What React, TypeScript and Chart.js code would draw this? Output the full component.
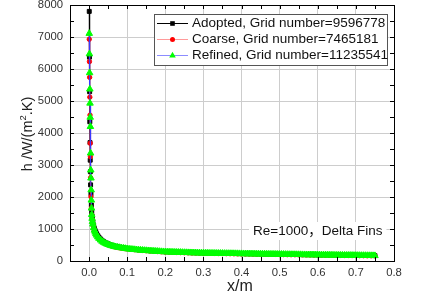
import { useEffect, useRef } from "react";
import { Chart, registerables } from "chart.js";

Chart.register(...registerables);

const FONT = '"Liberation Sans", Arial, "Noto Sans CJK SC", sans-serif';

const seriesNames = [
  "Adopted, Grid number=9596778",
  "Coarse, Grid number=7465181",
  "Refined, Grid number=11235541",
];
const annotationText = "Re=1000\uFF0CDelta Fins";
const xTitle = "x/m";
const yTitleParts = ["h /W/(m", "2", ".K)"];

const xTicks = [0, 0.1, 0.2, 0.3, 0.4, 0.5, 0.6, 0.7, 0.8];
const yTicks = [0, 1000, 2000, 3000, 4000, 5000, 6000, 7000, 8000];

// near-zero points (x/m)
const adoptedHeadX = [0.0005, 0.001, 0.0015, 0.002, 0.0025, 0.003, 0.0035, 0.004, 0.005, 0.006];
const adoptedHeadY = [7800, 6370, 5290, 4350, 3700, 3150, 2790, 2380, 2100, 1750];
const coarseHeadX = [0.0005, 0.001, 0.0015, 0.002, 0.0025, 0.003, 0.0035, 0.004, 0.005, 0.006];
const coarseHeadY = [6930, 6230, 5740, 5120, 4560, 3680, 3260, 2600, 2010, 1650];
const refinedHeadX = [0.0005, 0.001, 0.0015, 0.002, 0.0025, 0.003, 0.0035, 0.004, 0.0045, 0.005, 0.0055, 0.006];
const refinedHeadY = [7110, 6470, 5880, 5370, 4930, 4490, 4200, 3370, 2840, 2590, 2220, 1900];

// tail x positions for Adopted and Coarse
const baseTailX = [
  0.007, 0.008, 0.009, 0.01, 0.012, 0.014, 0.016, 0.018, 0.02, 0.023, 0.026, 0.03, 0.034,
  0.038, 0.042, 0.046, 0.05, 0.055, 0.06, 0.065, 0.07, 0.075, 0.08, 0.085, 0.09, 0.095,
  0.1, 0.11, 0.12, 0.13, 0.14, 0.15, 0.16, 0.17, 0.18, 0.19, 0.2,
  0.21, 0.22, 0.23, 0.24, 0.25, 0.26, 0.27, 0.28, 0.29, 0.3,
  0.31, 0.32, 0.33, 0.34, 0.35, 0.36, 0.37, 0.38, 0.39, 0.4,
  0.41, 0.42, 0.43, 0.44, 0.45, 0.46, 0.47, 0.48, 0.49, 0.5,
  0.51, 0.52, 0.53, 0.54, 0.55, 0.56, 0.57, 0.58, 0.59, 0.6,
  0.61, 0.62, 0.63, 0.64, 0.65, 0.66, 0.67, 0.68, 0.69, 0.7,
  0.71, 0.72, 0.73, 0.74, 0.75,
];
const adoptedTailY = [
  1520, 1400, 1300, 1220, 1100, 1015, 950, 895, 848, 790, 742, 690, 648,
  612, 582, 556, 535, 510, 490, 473, 458, 445, 433, 422, 412, 400,
  388, 373, 360, 348, 338, 329, 320, 311, 303, 295, 289,
  284, 279, 275, 271, 267, 263, 260, 257, 254, 251,
  248, 246, 244, 242, 240, 238, 236, 234, 232, 230,
  228, 226, 224, 222, 220, 218, 216, 215, 213, 211,
  209, 207, 205, 204, 202, 200, 198, 197, 195, 193,
  191, 190, 188, 186, 185, 183, 181, 180, 178, 177,
  175, 174, 172, 171, 169,
];
const coarseTailY = [
  1430, 1310, 1210, 1130, 1025, 945, 888, 838, 795, 740, 696, 647, 607,
  575, 548, 525, 505, 484, 466, 450, 436, 424, 413, 403, 394, 386,
  379, 366, 353, 341, 331, 321, 312, 304, 296, 288, 281,
  276, 271, 267, 263, 259, 255, 252, 249, 246, 243,
  240, 238, 236, 234, 232, 230, 228, 226, 224, 222,
  220, 218, 216, 214, 212, 210, 208, 207, 205, 203,
  201, 199, 197, 196, 194, 192, 190, 189, 187, 185,
  183, 182, 180, 178, 177, 175, 173, 172, 170, 169,
  167, 166, 164, 163, 161,
];

// Refined (finer grid, denser sampling)
const refinedTailX = [
  0.0065, 0.007, 0.008, 0.009, 0.01, 0.012, 0.014, 0.016, 0.018, 0.02, 0.023, 0.026, 0.03, 0.034,
  0.038, 0.042, 0.046, 0.05, 0.055, 0.06, 0.065, 0.07, 0.075, 0.08, 0.085, 0.09, 0.095,
  0.1, 0.105, 0.11, 0.115, 0.12, 0.125, 0.13, 0.135, 0.14, 0.145,
  0.15, 0.155, 0.16, 0.165, 0.17, 0.175, 0.18, 0.185, 0.19, 0.195,
  0.2, 0.205, 0.21, 0.215, 0.22, 0.225, 0.23, 0.235, 0.24, 0.245,
  0.25, 0.255, 0.26, 0.265, 0.27, 0.275, 0.28, 0.285, 0.29, 0.295,
  0.3, 0.305, 0.31, 0.315, 0.32, 0.325, 0.33, 0.335, 0.34, 0.345,
  0.35, 0.355, 0.36, 0.365, 0.37, 0.375, 0.38, 0.385, 0.39, 0.395,
  0.4, 0.405, 0.41, 0.415, 0.42, 0.425, 0.43, 0.435, 0.44, 0.445,
  0.45, 0.455, 0.46, 0.465, 0.47, 0.475, 0.48, 0.485, 0.49, 0.495,
  0.5, 0.505, 0.51, 0.515, 0.52, 0.525, 0.53, 0.535, 0.54, 0.545,
  0.55, 0.555, 0.56, 0.565, 0.57, 0.575, 0.58, 0.585, 0.59, 0.595,
  0.6, 0.605, 0.61, 0.615, 0.62, 0.625, 0.63, 0.635, 0.64, 0.645,
  0.65, 0.655, 0.66, 0.665, 0.67, 0.675, 0.68, 0.685, 0.69, 0.695,
  0.7, 0.705, 0.71, 0.715, 0.72, 0.725, 0.73, 0.735, 0.74, 0.745,
  0.75,
];
const refinedTailY = [
  1650, 1450, 1330, 1230, 1150, 1040, 960, 900, 850, 805, 750, 705, 655, 615,
  582, 555, 532, 512, 490, 472, 456, 442, 430, 419, 409, 400, 390,
  380, 373, 367, 361, 355, 349, 344, 339, 334, 329,
  325, 320, 316, 312, 308, 304, 300, 296, 292, 289,
  286, 283, 281, 278, 276, 274, 272, 270, 268, 266,
  264, 262, 260, 258, 257, 255, 254, 252, 251, 249,
  248, 246, 245, 244, 243, 242, 241, 240, 239, 238,
  237, 236, 235, 234, 233, 232, 231, 230, 229, 228,
  227, 226, 225, 224, 223, 222, 221, 220, 219, 218,
  217, 216, 215, 214, 213, 212, 212, 211, 210, 209,
  208, 207, 206, 205, 204, 203, 202, 201, 201, 200,
  199, 198, 197, 196, 195, 194, 194, 193, 192, 191,
  190, 189, 188, 187, 187, 186, 185, 184, 183, 182,
  182, 181, 180, 179, 178, 177, 177, 176, 175, 174,
  174, 173, 172, 171, 171, 170, 169, 168, 168, 167,
  166,
];

function pts(hx: number[], hy: number[], tx: number[], ty: number[]) {
  const out: { x: number; y: number }[] = [];
  hx.forEach((v, i) => out.push({ x: v, y: hy[i] }));
  tx.forEach((v, i) => {
    if (ty[i] !== undefined) out.push({ x: v, y: ty[i] });
  });
  return out;
}

const lineColors = ["#000000", "#ff3030", "#3a3aff"];
const legendLineColors = ["#000000", "#ff9a9a", "#8c8cff"];
const markerColors = ["#000000", "#ff0000", "#00ff00"];
const markerStyles = ["rect", "circle", "triangle"];

function drawMarker(ctx: CanvasRenderingContext2D, style: string, x: number, y: number, color: string) {
  ctx.fillStyle = color;
  ctx.beginPath();
  if (style === "rect") {
    ctx.rect(x - 2.3, y - 2.3, 4.6, 4.6);
  } else if (style === "circle") {
    ctx.arc(x, y, 2.5, 0, Math.PI * 2);
  } else {
    const r = 3.8;
    ctx.moveTo(x, y - r);
    ctx.lineTo(x + r * 0.866, y + r * 0.5);
    ctx.lineTo(x - r * 0.866, y + r * 0.5);
    ctx.closePath();
  }
  ctx.fill();
}

const decorPlugin = {
  id: "decor",
  afterDraw(chart: any) {
    const { ctx, chartArea: a } = chart;
    const xs = chart.scales.x;
    const ys = chart.scales.y;
    ctx.save();

    // frame
    ctx.strokeStyle = "#000";
    ctx.lineWidth = 1;
    ctx.strokeRect(Math.round(a.left) + 0.5, Math.round(a.top) + 0.5, Math.round(a.right - a.left), Math.round(a.bottom - a.top));

    // inward ticks
    ctx.beginPath();
    for (let i = 0; i <= 17; i++) {
      const v = -0.05 + i * 0.05;
      const px = Math.round(xs.getPixelForValue(v)) + 0.5;
      ctx.moveTo(px, a.bottom);
      ctx.lineTo(px, a.bottom - 4);
      ctx.moveTo(px, a.top);
      ctx.lineTo(px, a.top + 4);
    }
    for (let i = 0; i <= 16; i++) {
      const v = i * 500;
      const py = Math.round(ys.getPixelForValue(v)) + 0.5;
      ctx.moveTo(a.left, py);
      ctx.lineTo(a.left + 4, py);
      ctx.moveTo(a.right, py);
      ctx.lineTo(a.right - 4, py);
    }
    ctx.stroke();

    // tick labels
    ctx.fillStyle = "#333";
    ctx.font = `11.3px ${FONT}`;
    ctx.textAlign = "center";
    ctx.textBaseline = "middle";
    xTicks.forEach((v) => {
      ctx.fillText(v.toFixed(1), xs.getPixelForValue(v), a.bottom + 12);
    });
    ctx.textAlign = "right";
    yTicks.forEach((v) => {
      ctx.fillText(String(v), a.left - 7, ys.getPixelForValue(v));
    });

    // axis titles
    ctx.fillStyle = "#222";
    ctx.font = `16px ${FONT}`;
    ctx.textAlign = "center";
    ctx.textBaseline = "middle";
    ctx.fillText(xTitle, 240, 287);

    ctx.save();
    ctx.translate(28, 134);
    ctx.rotate(-Math.PI / 2);
    const big = `14.5px ${FONT}`;
    const small = `9.5px ${FONT}`;
    ctx.font = big;
    const w0 = ctx.measureText(yTitleParts[0]).width;
    const w2 = ctx.measureText(yTitleParts[2]).width;
    ctx.font = small;
    const w1 = ctx.measureText(yTitleParts[1]).width;
    let sx = -(w0 + w1 + w2) / 2;
    ctx.textAlign = "left";
    ctx.font = big;
    ctx.fillText(yTitleParts[0], sx, 0);
    sx += w0;
    ctx.font = small;
    ctx.fillText(yTitleParts[1], sx, -5);
    sx += w1;
    ctx.font = big;
    ctx.fillText(yTitleParts[2], sx, 0);
    ctx.restore();

    // legend box
    const lx = 154.5, ly = 14.5, lw = 233, lh = 51;
    ctx.fillStyle = "#fff";
    ctx.fillRect(lx, ly, lw, lh);
    ctx.strokeStyle = "#555";
    ctx.strokeRect(lx, ly, lw, lh);
    const rowsY = [23, 39, 54.5];
    ctx.font = `13.5px ${FONT}`;
    ctx.textAlign = "left";
    ctx.textBaseline = "middle";
    seriesNames.forEach((name, i) => {
      const yy = rowsY[i];
      ctx.strokeStyle = legendLineColors[i];
      ctx.lineWidth = 1;
      ctx.beginPath();
      ctx.moveTo(157, Math.round(yy) + 0.5);
      ctx.lineTo(188, Math.round(yy) + 0.5);
      ctx.stroke();
      drawMarker(ctx, markerStyles[i], 172.5, Math.round(yy) + 0.5, markerColors[i]);
      ctx.fillStyle = "#111";
      ctx.fillText(name, 192, yy + 0.5);
    });

    // annotation
    ctx.font = `13.5px ${FONT}`;
    const tw = ctx.measureText(annotationText).width;
    const tx = 253;
    const ty = 231;
    ctx.fillStyle = "#fff";
    ctx.fillRect(tx - 4, ty - 9, tw + 8, 18);
    ctx.fillStyle = "#111";
    ctx.fillText(annotationText, tx, ty);

    ctx.restore();
  },
};

export default function App() {
  const ref = useRef<HTMLCanvasElement | null>(null);

  useEffect(() => {
    if (!ref.current) return;
    const datasets = [
      {
        label: seriesNames[0],
        data: pts(adoptedHeadX, adoptedHeadY, baseTailX, adoptedTailY),
        borderColor: lineColors[0],
        backgroundColor: markerColors[0],
        pointBackgroundColor: markerColors[0],
        pointBorderColor: markerColors[0],
        pointStyle: "rect",
        pointRadius: 2.8,
        pointBorderWidth: 1,
        borderWidth: 1,
        showLine: true,
        order: 2,
      },
      {
        label: seriesNames[1],
        data: pts(coarseHeadX, coarseHeadY, baseTailX, coarseTailY),
        borderColor: lineColors[1],
        backgroundColor: markerColors[1],
        pointBackgroundColor: markerColors[1],
        pointBorderColor: markerColors[1],
        pointStyle: "circle",
        pointRadius: 2.2,
        pointBorderWidth: 1,
        borderWidth: 1,
        showLine: true,
        order: 1,
      },
      {
        label: seriesNames[2],
        data: pts(refinedHeadX, refinedHeadY, refinedTailX, refinedTailY),
        borderColor: lineColors[2],
        backgroundColor: markerColors[2],
        pointBackgroundColor: markerColors[2],
        pointBorderColor: markerColors[2],
        pointStyle: "triangle",
        pointRadius: 3.8,
        pointBorderWidth: 1,
        borderWidth: 1,
        showLine: true,
        order: 0,
      },
    ];
    const chart = new Chart(ref.current, {
      type: "scatter",
      data: { datasets } as any,
      options: {
        animation: false,
        responsive: false,
        maintainAspectRatio: false,
        events: [],
        layout: { padding: { left: 0, top: 5, right: 27, bottom: 0 } },
        plugins: {
          legend: { display: false },
          tooltip: { enabled: false },
          title: { display: false },
        },
        scales: {
          x: {
            type: "linear",
            min: -0.05,
            max: 0.8,
            afterBuildTicks: (s: any) => {
              s.ticks = xTicks.map((v) => ({ value: v }));
            },
            afterFit: (s: any) => {
              s.height = 47;
            },
            ticks: { display: false },
            border: { display: false },
            grid: { color: "#cdcdcd", lineWidth: 1, drawTicks: false },
          },
          y: {
            type: "linear",
            min: 0,
            max: 8000,
            afterBuildTicks: (s: any) => {
              s.ticks = yTicks.map((v) => ({ value: v }));
            },
            afterFit: (s: any) => {
              s.width = 70;
            },
            ticks: { display: false },
            border: { display: false },
            grid: { color: "#cdcdcd", lineWidth: 1, drawTicks: false },
          },
        },
      },
      plugins: [decorPlugin],
    } as any);
    return () => chart.destroy();
  }, []);

  return (
    <div style={{ position: "fixed", left: 0, top: 0, width: 421, height: 308, background: "#fff" }}>
      <canvas ref={ref} width={421} height={308} style={{ display: "block" }} />
    </div>
  );
}
